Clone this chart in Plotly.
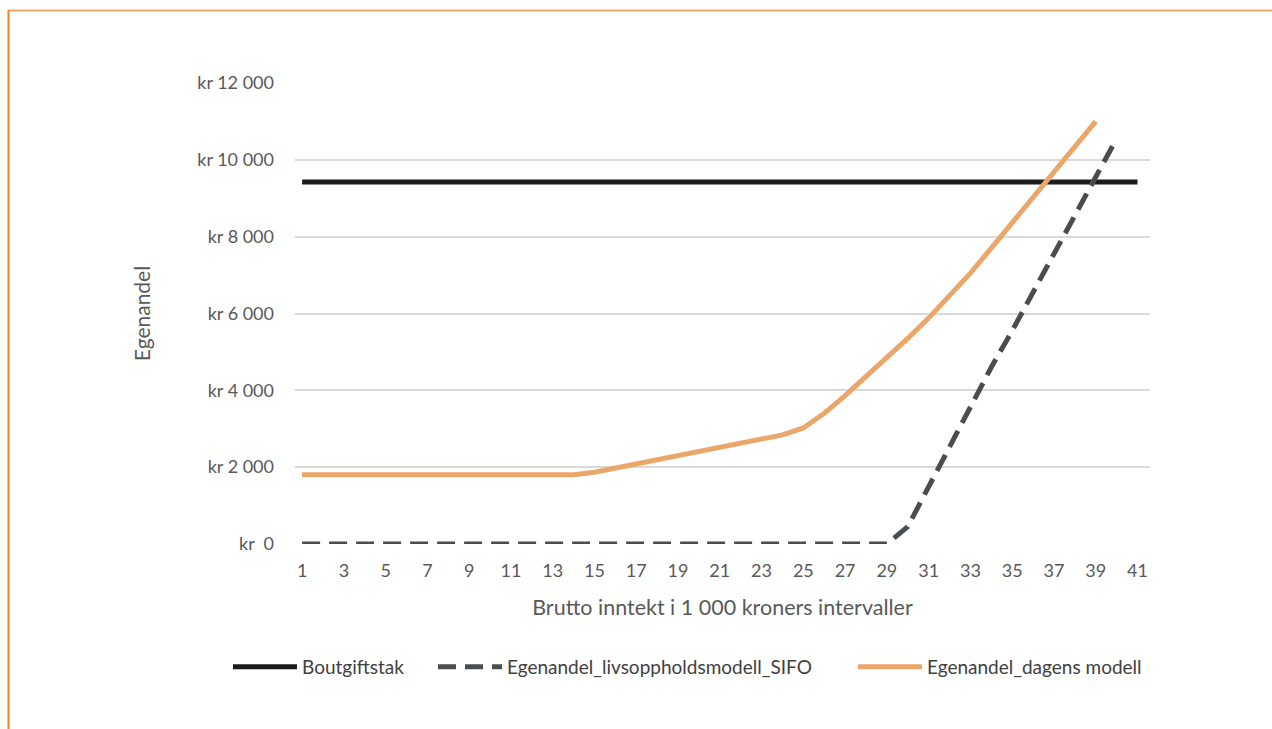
import plotly.graph_objects as go

# Income intervals (in 1 000 kr)
intervals = list(range(1, 42))

# Housing-cost cap (constant)
boutgiftstak = [9420] * 41

# Own share under the SIFO living-cost model (intervals 1-40)
sifo = [0] * 29 + [450, 1500, 2550, 3600, 4600, 5550, 6550, 7550, 8550, 9550, 10550]

# Own share under the current model (intervals 1-39)
dagens = ([1800] * 14 +
          [1870, 1980, 2090, 2200, 2310, 2420, 2530, 2640, 2740, 2840,
           3020, 3400, 3860, 4350, 4850, 5350, 5880, 6450, 7050, 7700,
           8350, 9000, 9650, 10300, 11000])

y_ticks = [0, 2000, 4000, 6000, 8000, 10000, 12000]
y_ticktext = ["kr  0", "kr 2 000", "kr 4 000", "kr 6 000", "kr 8 000", "kr 10 000", "kr 12 000"]
x_ticks = list(range(1, 42, 2))

FONT = "Lato"
GREY = "#595959"

W, H = 1272, 729
L, R, T, B = 295, 122, 83, 185
pw, ph = W - L - R, H - T - B


def px_x(px):
    return (px - L) / pw


def px_y(py):
    return (H - B - py) / ph


fig = go.Figure()
fig.add_trace(go.Scatter(x=intervals, y=boutgiftstak, mode="lines", name="Boutgiftstak",
                         legend="legend",
                         line=dict(color="#1a1c1e", width=5)))
fig.add_trace(go.Scatter(x=intervals[:len(sifo)], y=sifo, mode="lines",
                         name="Egenandel_livsoppholdsmodell_SIFO", legend="legend2",
                         line=dict(color="#4a4d50", width=5, dash="18px,9px")))
fig.add_trace(go.Scatter(x=intervals[:len(dagens)], y=dagens, mode="lines",
                         name="Egenandel_dagens modell", legend="legend3",
                         line=dict(color="#eba669", width=5)))

legend_style = dict(orientation="h", y=px_y(667), xanchor="left", yanchor="middle",
                    font=dict(size=19, color="#404040"), itemwidth=64, bgcolor="rgba(0,0,0,0)")

fig.update_layout(
    width=W, height=H,
    margin=dict(l=L, r=R, t=T, b=B),
    paper_bgcolor="white", plot_bgcolor="white",
    font=dict(family=FONT, size=18, color=GREY),
    showlegend=True,
    legend=dict(x=px_x(228), **legend_style),
    legend2=dict(x=px_x(433), **legend_style),
    legend3=dict(x=px_x(853), **legend_style),
    xaxis=dict(range=[0.66, 41.6], tickmode="array", tickvals=x_ticks,
               showgrid=False, zeroline=False, showline=False, ticks="",
               ticklabelstandoff=14,
               tickfont=dict(size=18, color=GREY),
               title=dict(text="Brutto inntekt i 1 000 kroners intervaller",
                          font=dict(size=21.5, color=GREY), standoff=19)),
    yaxis=dict(range=[0, 12000], tickmode="array", tickvals=y_ticks, ticktext=y_ticktext,
               showgrid=True, gridcolor="#d9d9d9", gridwidth=1.5, zeroline=False,
               showline=False, ticks="", ticklabelstandoff=20,
               tickfont=dict(size=18, color=GREY),
               title=dict(text="Egenandel", font=dict(size=21, color=GREY), standoff=40)),
    shapes=[
        dict(type="line", xref="paper", yref="paper", x0=px_x(8), x1=px_x(1272),
             y0=px_y(10.5), y1=px_y(10.5), line=dict(color="#f0a868", width=2)),
        dict(type="line", xref="paper", yref="paper", x0=px_x(8.5), x1=px_x(8.5),
             y0=px_y(10), y1=px_y(729), line=dict(color="#f08424", width=2)),
    ],
)

fig.write_html("out.html")
